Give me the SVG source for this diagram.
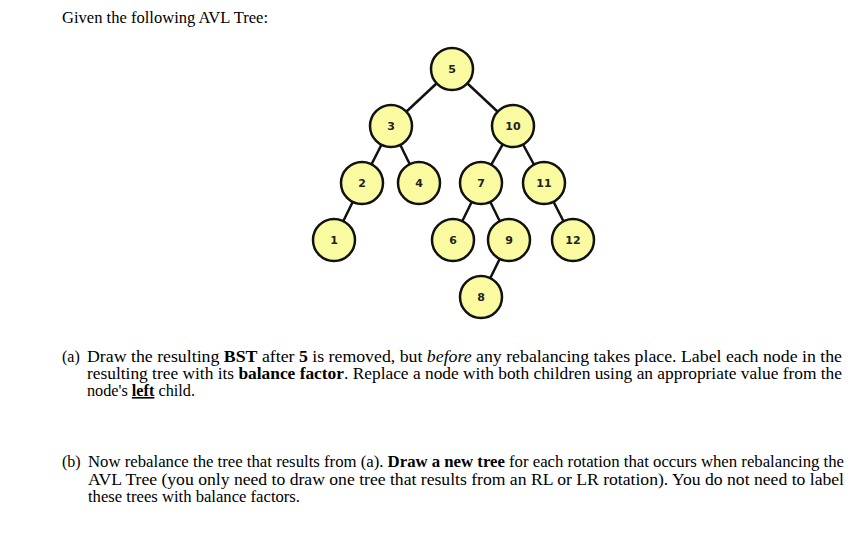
<svg xmlns="http://www.w3.org/2000/svg" width="851" height="549" viewBox="0 0 851 549">
<style>
.t{font-family:"Liberation Serif",serif;font-size:16px;fill:#000}
.n circle{fill:#fafaa0;stroke:#111;stroke-width:2.5}
.n text{font-family:"DejaVu Sans",sans-serif;font-size:11px;font-weight:bold;fill:#222;text-anchor:middle}
#edges line{stroke:#111;stroke-width:2.5}
</style>
<rect width="851" height="549" fill="#fff"/>
<text class="t" x="62" y="23" textLength="206" lengthAdjust="spacingAndGlyphs">Given the following AVL Tree:</text>
<g id="edges">
<line x1="452" y1="69" x2="391" y2="126"/><line x1="452" y1="69" x2="513" y2="126"/>
<line x1="391" y1="126" x2="362" y2="183"/><line x1="391" y1="126" x2="419" y2="183"/>
<line x1="513" y1="126" x2="481" y2="183"/><line x1="513" y1="126" x2="544" y2="183"/>
<line x1="362" y1="183" x2="334" y2="240"/>
<line x1="481" y1="183" x2="453" y2="240"/><line x1="481" y1="183" x2="509" y2="240"/>
<line x1="544" y1="183" x2="573" y2="240"/>
<line x1="509" y1="240" x2="481" y2="297"/>
</g>
<g id="n5" class="n"><circle cx="452" cy="69" r="21"/><text x="452" y="73">5</text></g>
<g id="n3" class="n"><circle cx="391" cy="126" r="21"/><text x="391" y="130">3</text></g>
<g id="n10" class="n"><circle cx="513" cy="126" r="21"/><text x="513" y="130">10</text></g>
<g id="n2" class="n"><circle cx="362" cy="183" r="21"/><text x="362" y="187">2</text></g>
<g id="n4" class="n"><circle cx="419" cy="183" r="21"/><text x="419" y="187">4</text></g>
<g id="n7" class="n"><circle cx="481" cy="183" r="21"/><text x="481" y="187">7</text></g>
<g id="n11" class="n"><circle cx="544" cy="183" r="21"/><text x="544" y="187">11</text></g>
<g id="n1" class="n"><circle cx="334" cy="240" r="21"/><text x="334" y="244">1</text></g>
<g id="n6" class="n"><circle cx="453" cy="240" r="21"/><text x="453" y="244">6</text></g>
<g id="n9" class="n"><circle cx="509" cy="240" r="21"/><text x="509" y="244">9</text></g>
<g id="n12" class="n"><circle cx="573" cy="240" r="21"/><text x="573" y="244">12</text></g>
<g id="n8" class="n"><circle cx="481" cy="297" r="21"/><text x="481" y="301">8</text></g>
<text class="t" x="62" y="362">(a)</text>
<text class="t" x="87" y="362" textLength="755" lengthAdjust="spacingAndGlyphs">Draw the resulting <tspan font-weight="bold">BST</tspan> after <tspan font-weight="bold">5</tspan> is removed, but <tspan font-style="italic">before</tspan> any rebalancing takes place.  Label each node in the</text>
<text class="t" x="87" y="379" textLength="755" lengthAdjust="spacingAndGlyphs">resulting tree with its <tspan font-weight="bold">balance factor</tspan>.  Replace a node with both children using an appropriate value from the</text>
<text class="t" x="87" y="396" textLength="108" lengthAdjust="spacingAndGlyphs">node's <tspan font-weight="bold" text-decoration="underline">left</tspan> child.</text>
<text class="t" x="62" y="467">(b)</text>
<text class="t" x="88" y="467" textLength="756" lengthAdjust="spacingAndGlyphs">Now rebalance the tree that results from (a).  <tspan font-weight="bold">Draw a new tree</tspan> for each rotation that occurs when rebalancing the</text>
<text class="t" x="88" y="485" textLength="756" lengthAdjust="spacingAndGlyphs">AVL Tree (you only need to draw one tree that results from an RL or LR rotation).  You do not need to label</text>
<text class="t" x="88" y="502" textLength="212" lengthAdjust="spacingAndGlyphs">these trees with balance factors.</text>
</svg>
